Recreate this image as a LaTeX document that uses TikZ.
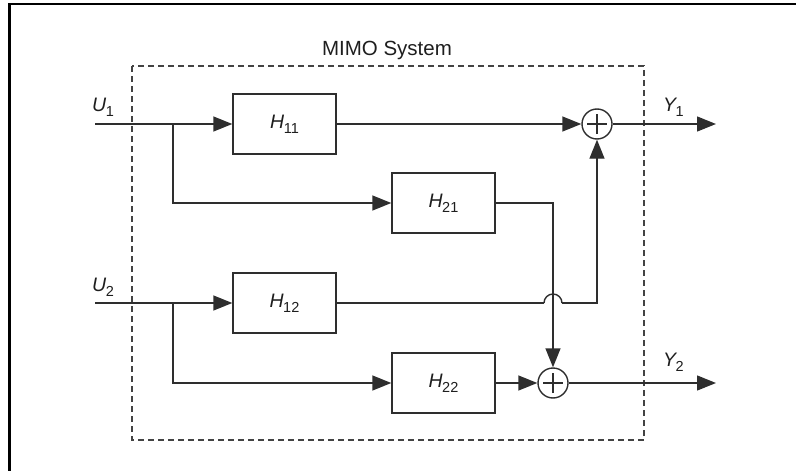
\documentclass[tikz,border=0pt]{standalone}
\usepackage{fontspec}
\setmainfont{Liberation Sans}
\usetikzlibrary{arrows.meta}
\definecolor{ln}{HTML}{2E2E2E}
\definecolor{tx}{HTML}{1E1E1E}
\newcommand{\mylbl}[2]{{\fontsize{19.5}{19.5}\selectfont\itshape #1}\kern-0.5pt\raisebox{-5pt}{\fontsize{14.5}{14.5}\selectfont #2}}
\begin{document}
\begin{tikzpicture}[x=1pt,y=-1pt,
  wire/.style={draw=ln,line width=1.4pt},
  arr/.style={wire,-{Triangle[length=19pt,width=15pt]}},
  blk/.style={draw=ln,line width=1.4pt,minimum width=103pt,minimum height=60pt,inner sep=0pt,text=tx},
  sumnode/.style={draw=ln,line width=1.4pt,circle,minimum size=30pt,inner sep=0pt},
  lab/.style={inner sep=0pt,text=tx,anchor=base west}]
\useasboundingbox (0,0) rectangle (796,471);
% frame
\draw[line width=2.7pt,black] (9.5,471) -- (9.5,4) -- (796,4);
% dashed system box
\draw[draw=ln!90,line width=1.3pt,dash pattern=on 6pt off 4pt] (132,66) rectangle (644,440);
\node[inner sep=0pt,text=tx,anchor=base] (title) at (387,55) {\fontsize{20.5}{20.5}\selectfont MIMO System};
% blocks
\node[blk] (h11) at (284.5,124) {\mylbl{H}{11}};
\node[blk] (h21) at (443.5,203) {\mylbl{H}{21}};
\node[blk] (h12) at (284.5,303) {\mylbl{H}{12}};
\node[blk] (h22) at (443.5,383) {\mylbl{H}{22}};
% summers
\node[sumnode] (s1) at (597,124) {};
\node[sumnode] (s2) at (553,383) {};
\foreach \s in {s1,s2}{
  \draw[wire] ([xshift=-10pt]\s.center) -- ([xshift=10pt]\s.center);
  \draw[wire] ([yshift=-10pt]\s.center) -- ([yshift=10pt]\s.center);
}
% coordinates
\coordinate (u1) at (95,124);
\coordinate (u2) at (95,303);
\coordinate (j1) at (173,124);
\coordinate (j2) at (173,303);
\coordinate (y1) at (716,124);
\coordinate (y2) at (716,383);
\coordinate (ja) at (544,303);
\coordinate (jb) at (562,303);
% inputs
\draw[wire] (u1) -- (j1);
\draw[arr] (j1) -- (h11.west);
\draw[arr] (j1) |- (h21.west);
\draw[wire] (u2) -- (j2);
\draw[arr] (j2) -- (h12.west);
\draw[arr] (j2) |- (h22.west);
% cross paths
\draw[arr] (h11.east) -- (s1.west);
\draw[arr] (h21.east) -| (s2.north);
\draw[wire] (h12.east) -- (ja);
\draw[wire] (ja) arc[start angle=180,end angle=360,radius=9];
\draw[arr] (jb) -| (s1.south);
\draw[arr] (h22.east) -- (s2.west);
% outputs
\draw[arr] (s1.east) -- (y1);
\draw[arr] (s2.east) -- (y2);
% labels
\node[lab] (lu1) at (92,111) {\mylbl{U}{1}};
\node[lab] (lu2) at (92,291) {\mylbl{U}{2}};
\node[lab] (ly1) at (663,111) {\mylbl{Y}{1}};
\node[lab] (ly2) at (663,366) {\mylbl{Y}{2}};
\end{tikzpicture}
\end{document}
